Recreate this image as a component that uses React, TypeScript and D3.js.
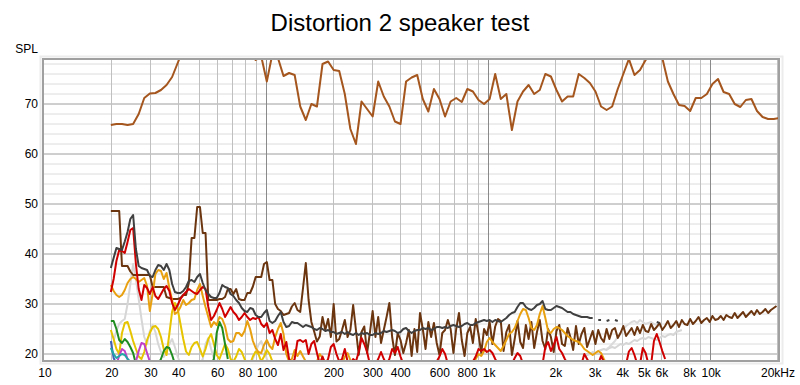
import React from 'react';
import * as d3 from 'd3';

const TITLE = 'Distortion 2 speaker test';
const Y_LABEL = 'SPL';
const X_TICKS = [10, 20, 30, 40, 60, 80, 100, 200, 300, 400, 600, 800, 1000, 2000, 3000, 4000, 5000, 6000, 8000, 10000, 20000];
const X_GRID = [20, 30, 40, 50, 60, 70, 80, 90, 200, 300, 400, 500, 600, 700, 800, 900, 2000, 3000, 4000, 5000, 6000, 7000, 8000, 9000, 20000];
const X_DECADES = [100, 1000, 10000];
const Y_TICKS = [20, 30, 40, 50, 60, 70];
const Y_MINOR = d3.range(20, 79, 2);

// all traces are read on a log grid starting at 20 Hz (ppo = points per octave)
const BASE_HZ = 20;

const fundamental = [
  65.8, 66.0, 66.0, 65.8, 66.0, 68.0, 71.2, 72.1, 72.2, 72.8,
  73.8, 75.4, 78.2, 81, 82, 83, 83, 83, 82, 82,
  82, 82, 81, 81, 81, 80, 78.8, 79.5, 74.5, 80,
  79.2, 75.6, 76.2, 75.8, 69.5, 66.8, 70.0, 69.5, 78.0, 78.5,
  76.8, 76.6, 72.0, 65.0, 62.0, 70.5, 69.0, 67.5, 74.5, 71.5,
  69.5, 66.5, 66.0, 74.5, 75.3, 75.8, 71.0, 68.5, 73.0, 71.0,
  67.5, 70.5, 71.2, 70.4, 73.0, 72.5, 70.8, 70.0, 71.0, 76.0,
  71.0, 72.0, 64.8, 70.5, 72.5, 73.8, 72.0, 72.8, 76.0, 75.5,
  72.8, 70.5, 71.5, 71.5, 76.0, 75.2, 74.2, 72.5, 69.5, 68.8,
  69.5, 73.0, 76.0, 79.0, 75.8, 76.8, 78.8, 80.0, 80.0, 79.2,
  74.5, 72.0, 69.8, 69.6, 68.6, 71.2, 71.2, 72.0, 74.0, 75.0,
  72.4, 72.0, 70.0, 69.4, 70.8, 71.0, 68.6, 67.4, 67.0, 67.0,
  67.2,
];

const noise = [
  48.6, 48.6, 48.6, 48.6, 37.6, 37.6, 37.6, 36.5, 35.8, 35.8,
  35.8, 35.8, 35.8, 35.8, 35.8, 33.4, 33.4, 33.4, 33.4, 33.4,
  31.4, 31.2, 31.0, 31.0, 31.0, 31.2, 31.8, 31.8, 34.2, 43.2,
  43.2, 49.4, 49.4, 44.2, 44.2, 30.8, 30.8, 30.8, 30.8, 31.0,
  31.0, 31.4, 33.0, 33.0, 32.0, 33.0, 31.0, 30.8, 30.8, 32.2,
  32.2, 33.5, 35.4, 35.4, 35.4, 38.0, 38.4, 34.8, 34.8, 30.0,
  29.0, 28.6, 27.8, 28.0, 28.2, 29.5, 30.2, 28.8, 28.4, 33.2,
  38.2, 30.8, 26.4, 24.5, 22.5, 23.5, 27.4, 24.8, 27.0, 23.4,
  30.0, 22.5, 23.0, 24.8, 26.8, 23.4, 24.8, 29.8, 24.8, 19.8,
  24.4, 25.5, 20.2, 24.2, 28.6, 23.4, 27.4, 22.2, 24.8, 27.4,
  30.2, 23.4, 19.8, 24.2, 22.8, 20.2, 22.2, 24.8, 19.6, 25.0,
  20.4, 28.2, 25.0, 21.0, 26.4, 23.4, 26.2, 22.2, 19.8, 24.2,
  24.8, 26.8, 25.0, 20.2, 25.0, 28.2, 22.8, 19.6, 24.2, 25.4,
  22.2, 27.0, 24.0, 20.2, 25.0, 23.8, 26.4, 22.0, 25.5, 27.0,
  26.6, 20.6, 24.4, 25.8, 19.8, 23.0, 26.6, 22.4, 21.2, 25.8,
  23.0, 26.4, 21.2, 24.4, 26.8, 22.6, 21.0, 25.0, 23.4, 20.4,
  24.6, 25.8, 22.0, 21.6, 25.2, 23.4, 20.8, 25.6, 22.0, 24.0,
  25.2, 21.4, 23.0, 24.6, 22.0, 24.8, 23.2, 22.4, 25.0, 23.0,
  24.8, 25.2, 23.2, 24.2, 25.6, 23.6, 24.4, 25.2, 23.8, 25.4,
  24.2, 25.8, 24.6, 24.4, 26.0, 24.8, 25.4, 26.2, 24.8, 25.6,
  26.6, 25.2, 25.8, 26.6, 25.4, 26.8, 26.0, 25.8, 27.0, 26.0,
  26.6, 27.4, 26.2, 26.8, 27.2, 26.4, 27.6, 26.8, 27.0, 27.6,
  26.8, 27.8, 27.4, 27.2, 28.2, 27.2, 27.8, 28.4, 27.4, 28.0,
  28.6, 27.8, 28.8, 28.0, 28.4, 29.0, 28.2, 28.8, 29.2, 29.6,
];

const thd = [
  37.2, 39.2, 41.2, 41.0, 40.8, 42.5, 44.4, 47.0, 47.8, 41.0,
  37.6, 37.2, 37.0, 36.8, 35.6, 35.4, 36.8, 37.8, 37.6, 36.8,
  38.0, 36.8, 34.0, 32.4, 32.2, 32.2, 32.6, 33.4, 34.6, 34.8,
  34.4, 35.4, 36.0, 34.2, 32.8, 32.0, 31.4, 31.2, 31.2, 32.2,
  33.8, 33.4, 33.2, 32.0, 31.6, 30.8, 30.2, 29.2, 28.6, 28.4,
  29.2, 29.0, 27.8, 27.4, 27.4, 28.2, 28.8, 26.6, 26.2, 26.6,
  27.6, 28.4, 26.4, 25.4, 25.6, 26.4, 26.2, 26.2, 25.8, 25.4,
  25.8, 25.6, 25.4, 25.0, 24.8, 25.2, 25.0, 24.6, 24.8, 24.4,
  24.4, 24.0, 24.2, 24.4, 24.0, 24.4, 24.0, 23.8, 24.2, 23.8,
  24.2, 24.0, 24.2, 23.8, 23.8, 24.2, 24.0, 24.2, 24.6, 24.4,
  24.6, 24.8, 24.6, 24.2, 24.4, 25.0, 25.2, 24.6, 24.2, 24.6,
  24.8, 24.8, 25.2, 25.0, 25.2, 24.8, 25.0, 25.4, 25.4, 25.2,
  25.4, 25.2, 25.6, 25.8, 25.6, 25.4, 25.6, 26.0, 26.2, 25.8,
  25.8, 26.2, 26.4, 26.6, 26.8, 26.6, 26.8, 26.4, 26.8, 26.6,
  26.4, 26.8, 27.2, 27.8, 28.2, 28.4, 29.4, 30.2, 30.2, 29.4,
  29.0, 28.8, 29.2, 29.8, 30.0, 30.6, 29.0, 28.8, 28.8, 29.2,
  29.6, 29.4, 29.2, 28.8, 28.4, 28.4, 28.0, 27.8, 27.6, 27.4,
  27.4, 27.4, 27.2, 27.2, null, 26.8, 26.8, null, 26.6, 26.8,
  null, 26.8, 26.6, null, null, null, null, null, null, null,
  null, null, null, null, null, null, 26.4, 26.2,
];

const h2 = [
  32.4, 35.0, 38.6, 40.8, 40.6, 40.2, 42.4, 44.8, 45.2, 38.0,
  33.0, 30.8, 33.8, 33.2, 32.0, 33.4, 31.6, 31.0, 32.0, 33.0,
  33.6, 32.6, 30.2, 28.8, 29.8, 31.0, 31.8, 32.4, 33.0, 32.6,
  32.2, 32.0, 32.8, 33.4, 33.0, 29.4, 26.8, 27.6, 28.8, 30.2,
  29.0, 27.4, 28.4, 29.4, 28.4, 27.8, 26.8, 27.4, 28.2, 27.4,
  26.8, 27.2, 27.0, 27.4, 26.0, 25.4, 26.2, 24.2, 24.8, 23.0,
  21.8, 24.0, 20.8, 22.4, 19.0, 18.0, 19.0, 22.6, 22.8, 22.4,
  22.8, 20.0, 22.0, 22.6, 20.2, 18.0, 19.5, 18.0, 19.0, 21.4,
  22.0, 20.0, 18.5, 19.0, 21.0, 18.5, 18.0, 19.0, 18.5, 20.4,
  23.2, 22.0, 20.4, 18.0, 18.0, 18.0, 19.0, 20.4, 19.0, 18.0,
  19.0, 21.0, 20.2, 21.4, 19.5, 18.0, 18.0, 18.5, 18.0, 18.0,
  18.0, 18.5, 18.0, 18.0, 18.0, 18.0, 18.0, 18.5, 19.5, 21.0,
  20.0, 18.0, 18.0, 18.0, 18.0, 18.0, 18.0, 18.0, 18.0, 18.0,
  18.5, 19.5, 21.0, 20.6, 21.0, 20.4, 20.8, 20.2, 19.0, 18.0,
  18.0, 18.0, 18.0, 18.0, 18.0, 19.2, 20.2, 19.6, 18.0, 18.0,
  18.0, 18.0, 18.0, 18.0, 18.0, 18.0, 21.4, 22.4, 20.6, 21.8,
  23.4, 21.0, 20.2, 19.0, 18.0, 18.0, 18.0, 18.0, 18.0, 18.0,
  20.0, 19.0, 18.0, 18.0, 18.0, 18.0, 19.6, 18.5, 18.0, 18.0,
  18.0, 18.0, 18.0, 18.0, 18.0, 18.0, 20.5, 21.2, 19.8, 18.0,
  18.0, 21.2, 20.2, 18.0, 18.0, 22.6, 24.0, 22.4, 20.6, 19.0,
];

const h3 = [
  33.8, 32.6, 31.8, 31.4, 31.8, 32.8, 34.2, 35.0, 35.4, 35.0,
  34.4, 34.8, 35.2, 33.6, 28.6, 32.0, 36.0, 36.8, 36.6, 35.0,
  36.2, 33.2, 30.8, 28.0, 28.4, 29.4, 30.8, 29.8, 30.2, 30.8,
  31.0, 32.8, 34.0, 31.6, 29.4, 27.4, 25.4, 26.4, 25.8, 27.4,
  27.0, 25.6, 23.0, 22.4, 22.6, 24.2, 24.2, 23.6, 24.6, 26.6,
  25.0, 22.6, 21.2, 20.4, 20.2, 21.8, 22.8, 21.6, 21.0, 23.4,
  25.0, 26.2, 24.0, 20.0, 18.5, 19.0, 20.8, 19.6, 20.6, 19.5,
  18.5, 18.0, 18.0, 18.0, 18.5, 20.0, 19.2, 18.0, 18.0, 18.0,
  18.0, 18.0, 18.0, 18.0, 19.5, 20.2, 18.8, 18.0, 18.0, null,
  null, null, null, null, null, null, null, null, null, null,
  null, null, null, null, null, null, null, null, null, null,
  null, null, null, null, null, null, null, null, null, null,
  null, null, null, null, null, null, null, null, null, 18.0,
  18.0, 19.0, 20.0, 19.6, 20.6, 22.4, 23.2, 22.4, 21.8, 21.2,
  20.6, 21.6, 22.8, 24.0, 24.4, 25.2, 26.6, 28.0, 29.0, 28.8,
  27.2, 25.2, 24.8, 25.8, 28.0, 29.6, 27.2, 24.6, 24.2, 25.0,
  25.4, 25.2, 24.8, 24.2, 23.6, 23.2, 22.8, 22.6, 22.4, 21.8,
  21.0, 20.6, 20.2, 19.8, 20.2, 20.6, 20.2, 19.0, 18.0,
];

const h4 = [
  24.8, 23.0, 21.0, 20.0, 24.2, 26.2, 26.4, 24.6, 22.6, 21.0,
  19.5, 19.0, 20.4, 22.8, 24.2, 25.4, 25.6, 25.0, 23.4, 21.0,
  19.8, 24.0, 28.5, 30.2, 29.0, 26.0, 23.0, 20.5, 19.8, 21.4,
  22.2, 22.4, 21.0, 19.5, 21.0, 23.0, 24.0, 22.0, 19.8, 19.0,
  20.5, 22.0, 21.0, 19.0, 18.5, 19.5, 21.0, 20.4, 19.0, 18.0,
  18.0, 19.5, 20.5, 20.0, 18.5, 19.5, 20.8, 20.0, 18.5, 18.0,
];

const h5 = [
  21.0, 22.6, 24.6, 26.0, 26.6, 27.0, 30.0, 34.0, 38.0, 35.0,
  31.0, 27.0, 23.4, 22.0, 24.6, 25.8, 24.4, 22.0, 20.4, 19.4,
  20.4, 22.0, 23.0, 21.4, 19.5, 18.0, 18.0, 18.0, 18.0, 18.0,
  18.0, 18.0, 18.0, 19.0, 22.0, 23.2, 21.0, 19.0, 18.0, 18.0,
  18.0, 18.0, 18.0, 18.0, 18.0, 18.0, 18.0, 18.0, 18.0, 18.0,
  18.0, 19.0, 20.4, 21.8, 22.6, 21.0, 19.0, 18.0,
];
const h5High = [
  19.5, 19.8, 20.0, 20.4, 20.2, 20.6, 20.8, 21.0, 20.8, 21.2,
  21.4, 21.2, 21.6, 22.0, 21.8, 22.2, 22.0, 22.4, 22.8, 22.6,
  23.0, 23.2, 23.0, 23.4, 23.2, 23.0, 22.8, 23.2, 23.6, 23.4,
  23.8, 24.0, 23.8, 24.4, 24.6, 24.8,
];
const h6High = [
  21.0, 21.4, 22.0, 22.6, 23.4, 24.2, 25.0, 25.6, 26.0, 26.4,
  26.6, 26.2, 26.8, 26.4, 26.0, 26.2, 26.4, 26.0, 25.8, 25.6, 25.4,
];

const h6 = [
  26.6, 26.6, 25.0, 22.8, 22.2, 23.0, 22.4, 21.4, 20.2, 18.0,
  18.0, 18.0, 18.0, 18.0, 18.0, 18.0, 18.0, 18.0, 19.0, 20.6,
  21.4, 21.2, 19.8, 18.0, 18.0, 18.0, 18.0, 18.0, 18.0, 18.0,
  18.0, 18.0, 18.0, 18.0, 18.0, 18.0, 18.0, 19.0, 24.2, 26.4,
  25.2, 22.0, 19.0,
];
const h7 = [22.6, 19.2, 18.0];
const h8 = [18.0, 19.6, 21.0, 20.6, 19.0, 18.0, 18.0, 18.5, 20.6, 22.2, 22.0, 20.2, 18.5, 18.0];
const h9 = [21.2, 20.0, 19.2, 19.6, 20.0, 19.8, 19.0, 18.5];

type Trace = { values: (number | null)[]; ppo: number; start: number; color: string; width: number };

// back to front
const TRACES: Trace[] = [
  { values: h5, ppo: 24, start: 0, color: '#d6d6d6', width: 2 },
  { values: h5High, ppo: 24, start: 170, color: '#d6d6d6', width: 2 },
  { values: h6High, ppo: 24, start: 178, color: '#dadada', width: 2 },
  { values: noise, ppo: 24, start: 0, color: '#6b3510', width: 2 },
  { values: h4, ppo: 24, start: 0, color: '#e6c400', width: 2 },
  { values: h6, ppo: 24, start: 0, color: '#1f8c1f', width: 2 },
  { values: h7, ppo: 24, start: 0, color: '#4060b8', width: 2 },
  { values: h8, ppo: 24, start: 2, color: '#c040c8', width: 2 },
  { values: h9, ppo: 24, start: 0, color: '#20a8a8', width: 2 },
  { values: h3, ppo: 24, start: 0, color: '#e8a010', width: 2 },
  { values: h2, ppo: 24, start: 0, color: '#d00000', width: 2 },
  { values: thd, ppo: 24, start: 0, color: '#404040', width: 2 },
  { values: fundamental, ppo: 12, start: 0, color: '#a4561e', width: 2 },
];

const fmtHz = (v: number) => (v === 20000 ? '20kHz' : v >= 1000 ? `${v / 1000}k` : `${v}`);

export default function App() {
  const width = 800;
  const height = 385;
  const left = 44, right = 778, top = 60, bottom = 360;

  const x = d3.scaleLog().domain([10, 20000]).range([44, 777]);
  const y = d3.scaleLinear().domain([18.8, 79]).range([360, 59]);

  const line = d3
    .line<[number, number | null]>()
    .defined((d) => d[1] != null)
    .x((d) => x(d[0]))
    .y((d) => y(d[1] as number));

  const font = '"Liberation Sans", Arial, sans-serif';

  return (
    <svg
      width={width}
      height={height}
      style={{ position: 'absolute', left: 0, top: 0, background: '#fff' }}
      fontFamily={font}
    >
      <defs>
        <clipPath id="plot">
          <rect x={left} y={top} width={right - left} height={bottom - top} />
        </clipPath>
      </defs>

      <text x={400} y={31} textAnchor="middle" fontSize={24} fill="#000">
        {TITLE}
      </text>
      <text x={38} y={53} textAnchor="end" fontSize={12} fill="#000">
        {Y_LABEL}
      </text>

      {/* frame with soft shadow */}
      <rect x={40.5} y={56.5} width={742} height={307} fill="none" stroke="#ececec" strokeWidth={2} />
      <rect x={left} y={top} width={right - left} height={bottom - top} fill="#fff" />

      <g>
        {Y_MINOR.map((v) => (
          <line key={`ym${v}`} x1={left} x2={right} y1={y(v)} y2={y(v)} stroke="#dcdcdc" strokeWidth={1} />
        ))}
        {Y_TICKS.map((v) => (
          <line key={`yM${v}`} x1={left} x2={right} y1={y(v)} y2={y(v)} stroke="#b0b0b0" strokeWidth={1} />
        ))}
        {X_GRID.map((v) => (
          <line key={`xg${v}`} x1={Math.round(x(v)) + 0.5} x2={Math.round(x(v)) + 0.5} y1={top} y2={bottom} stroke="#c0c0c0" strokeWidth={1} />
        ))}
        {X_DECADES.map((v) => (
          <line key={`xd${v}`} x1={Math.round(x(v)) + 0.5} x2={Math.round(x(v)) + 0.5} y1={top} y2={bottom} stroke="#8a8a8a" strokeWidth={1} />
        ))}
      </g>

      <g clipPath="url(#plot)">
        {TRACES.map((t, k) => {
          const pts: [number, number | null][] = t.values.map((v, i) => [
            BASE_HZ * Math.pow(2, (t.start + i) / t.ppo),
            v,
          ]);
          return (
            <path
              key={k}
              d={line(pts) || ''}
              fill="none"
              stroke={t.color}
              strokeWidth={t.width}
              strokeLinejoin="round"
            />
          );
        })}
      </g>

      <rect x={43} y={59} width={736} height={302} fill="none" stroke="#a0a0a0" strokeWidth={2} />

      {Y_TICKS.map((v) => (
        <text key={`yl${v}`} x={38} y={y(v)} dy="0.35em" textAnchor="end" fontSize={12} fill="#000">
          {v}
        </text>
      ))}
      {X_TICKS.map((v) => (
        <text key={`xl${v}`} x={x(v) + 1} y={377} textAnchor="middle" fontSize={12} fill="#000">
          {fmtHz(v)}
        </text>
      ))}
    </svg>
  );
}
